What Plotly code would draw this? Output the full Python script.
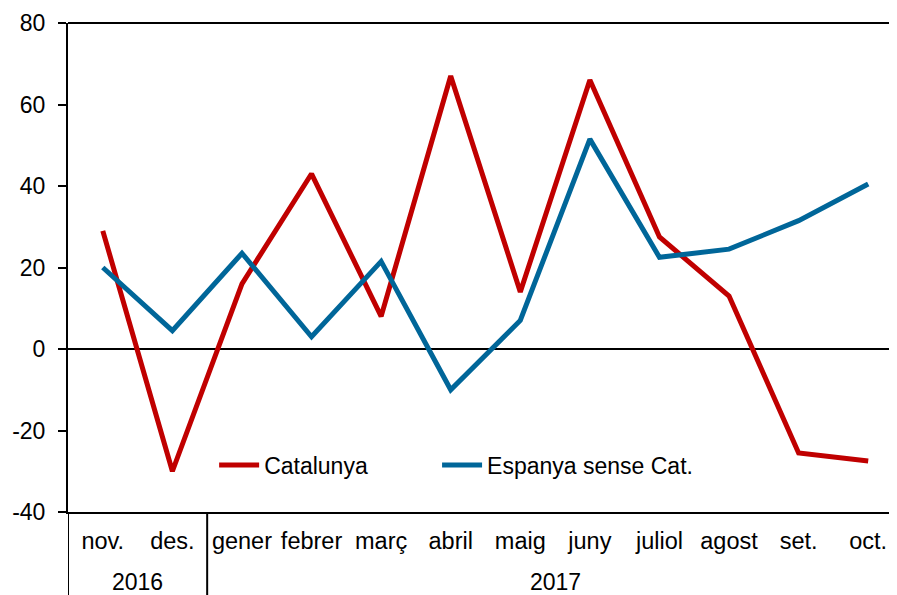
import plotly.graph_objects as go

months = ["nov.", "des.", "gener", "febrer", "març", "abril", "maig", "juny", "juliol", "agost", "set.", "oct."]
years = ["2016", "2017"]
catalunya = [29, -30, 16, 43, 8, 67, 14, 66, 27.5, 13, -25.5, -27.5]
espanya = [20, 4.5, 23.5, 3, 21.5, -10, 7, 51.5, 22.5, 24.5, 31.5, 40.5]
y_ticks = [-40, -20, 0, 20, 40, 60, 80]
y_labels = ["-40", "-20", "0", "20", "40", "60", "80"]

x = list(range(len(months)))
FONT = "Liberation Sans, Arial, sans-serif"

fig = go.Figure()
fig.add_trace(go.Scatter(x=x, y=catalunya, mode="lines", name="Catalunya",
                         line=dict(color="#C00000", width=5), legend="legend"))
fig.add_trace(go.Scatter(x=x, y=espanya, mode="lines", name="Espanya sense Cat.",
                         line=dict(color="#006699", width=5), legend="legend2"))

leg_common = dict(orientation="h", y=0.096, xanchor="left", yanchor="middle",
                  font=dict(size=23, family=FONT), bgcolor="rgba(0,0,0,0)", itemwidth=40)

fig.update_layout(
    width=897, height=595,
    margin=dict(l=60, r=2, t=15, b=91, autoexpand=False),
    paper_bgcolor="white", plot_bgcolor="white",
    font=dict(family=FONT, color="black"),
    legend=dict(x=0.175, **leg_common),
    legend2=dict(x=0.442, **leg_common),
    showlegend=True,
)
fig.update_xaxes(range=[-0.5, 11.5], tickvals=x, ticktext=months,
                 showgrid=False, zeroline=False, showline=True, linecolor="black", linewidth=2,
                 ticks="", tickfont=dict(size=23.5, family=FONT), ticklabelstandoff=7,
                 automargin=False, fixedrange=True)
fig.update_yaxes(range=[-40, 80], tickvals=y_ticks, ticktext=y_labels,
                 showgrid=False, zeroline=True, zerolinecolor="black", zerolinewidth=2,
                 showline=True, linecolor="black", linewidth=2,
                 ticks="outside", ticklen=8, tickwidth=2, tickcolor="black",
                 tickfont=dict(size=23, family=FONT), ticklabelstandoff=8,
                 automargin=False, fixedrange=True)

# top frame line
fig.add_shape(type="line", xref="paper", yref="paper", x0=0, x1=1, y0=1, y1=1,
              line=dict(color="black", width=2))
# year separators below the axis
for xv in [-0.5, 1.5]:
    fig.add_shape(type="line", xref="x", yref="paper", x0=xv, x1=xv, y0=0, y1=-0.2,
                  line=dict(color="black", width=2))
fig.add_annotation(x=0.5, y=-0.143, xref="x", yref="paper", text=years[0], showarrow=False,
                   font=dict(size=23, family=FONT), yanchor="middle")
fig.add_annotation(x=6.5, y=-0.143, xref="x", yref="paper", text=years[1], showarrow=False,
                   font=dict(size=23, family=FONT), yanchor="middle")

fig.write_html("out.html")
